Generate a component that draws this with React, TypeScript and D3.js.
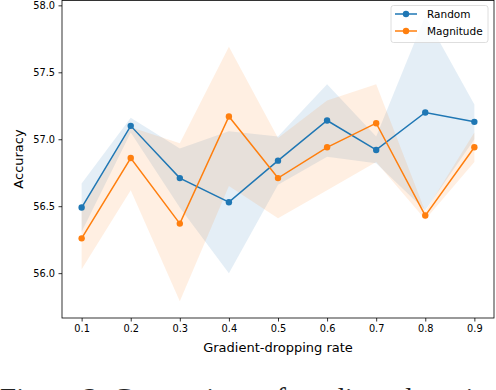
import { useEffect, useRef } from "react";
import * as d3 from "d3";

// values
const rates = [0.1, 0.2, 0.3, 0.4, 0.5, 0.6, 0.7, 0.8, 0.9];
const randomMean = [56.49, 57.1, 56.71, 56.53, 56.84, 57.14, 56.92, 57.2, 57.13];
const randomLow = [56.31, 57.05, 56.49, 56.0, 56.66, 56.87, 56.82, 56.47, 57.0];
const randomHigh = [56.67, 57.16, 56.93, 57.06, 57.02, 57.41, 57.02, 57.92, 57.26];
const magMean = [56.26, 56.86, 56.37, 57.17, 56.71, 56.94, 57.12, 56.43, 56.94];
const magLow = [56.03, 56.62, 55.79, 56.65, 56.41, 56.62, 56.83, 56.4, 56.83];
const magHigh = [56.49, 57.09, 56.97, 57.69, 57.01, 57.29, 57.41, 56.46, 57.05];
const yTicks = [56.0, 56.5, 57.0, 57.5, 58.0];
const seriesNames = ["Random", "Magnitude"];
const caption = "Figure 3: Comparison of gradient-dropping methods.";

const WIDTH = 496;
const HEIGHT = 390;
const BLUE = "#1f77b4";
const ORANGE = "#ff7f0e";
const FONT = "DejaVu Sans, sans-serif";

export default function App() {
  const ref = useRef<SVGSVGElement>(null);

  useEffect(() => {
    const svg = d3.select(ref.current);
    svg.selectAll("*").remove();

    const left = 62, right = 494, top = 0, bottom = 318;
    const x = d3.scaleLinear().domain([0.06, 0.94]).range([left, right]);
    const y = d3.scaleLinear().domain([55.665, 58.04]).range([bottom, top]);

    const series = [
      { name: seriesNames[0], mean: randomMean, lo: randomLow, hi: randomHigh, color: BLUE },
      { name: seriesNames[1], mean: magMean, lo: magLow, hi: magHigh, color: ORANGE },
    ];

    const band = d3
      .area<number>()
      .x((_, i) => x(rates[i]));
    const line = d3
      .line<number>()
      .x((_, i) => x(rates[i]))
      .y((d) => y(d));

    // shaded bands first
    series.forEach((s) => {
      svg
        .append("path")
        .attr("d", band.y0((_, i) => y(s.lo[i])).y1((_, i) => y(s.hi[i]))(s.mean))
        .attr("fill", s.color)
        .attr("fill-opacity", 0.12);
    });

    series.forEach((s) => {
      svg
        .append("path")
        .attr("d", line(s.mean))
        .attr("fill", "none")
        .attr("stroke", s.color)
        .attr("stroke-width", 1.5);
      svg
        .append("g")
        .selectAll("circle")
        .data(s.mean)
        .join("circle")
        .attr("cx", (_, i) => x(rates[i]))
        .attr("cy", (d) => y(d))
        .attr("r", 3.2)
        .attr("fill", s.color);
    });

    // axes
    const xAxis = svg
      .append("g")
      .attr("transform", `translate(0,${bottom})`)
      .call(d3.axisBottom(x).tickValues(rates).tickFormat(d3.format(".1f")).tickSize(3.5).tickPadding(3.5));
    const yAxis = svg
      .append("g")
      .attr("transform", `translate(${left},0)`)
      .call(d3.axisLeft(y).tickValues(yTicks).tickFormat(d3.format(".1f")).tickSize(3.5).tickPadding(3.5));
    [xAxis, yAxis].forEach((a) => {
      a.select(".domain").remove();
      a.selectAll("line").attr("stroke", "#000").attr("stroke-width", 0.8);
      a.selectAll("text").attr("font-family", FONT).attr("font-size", 9.8).attr("fill", "#000");
    });

    // frame
    svg
      .append("rect")
      .attr("x", left)
      .attr("y", top + 0.4)
      .attr("width", right - left)
      .attr("height", bottom - top - 0.4)
      .attr("fill", "none")
      .attr("stroke", "#000")
      .attr("stroke-width", 0.8);

    svg
      .append("text")
      .attr("x", (left + right) / 2)
      .attr("y", 352)
      .attr("text-anchor", "middle")
      .attr("font-family", FONT)
      .attr("font-size", 13)
      .text("Gradient-dropping rate");
    svg
      .append("text")
      .attr("transform", `translate(23,${(top + bottom) / 2}) rotate(-90)`)
      .attr("text-anchor", "middle")
      .attr("font-family", FONT)
      .attr("font-size", 13)
      .text("Accuracy");

    // legend
    const lg = svg.append("g");
    lg.append("rect")
      .attr("x", 391)
      .attr("y", 5.5)
      .attr("width", 97)
      .attr("height", 37)
      .attr("rx", 2.5)
      .attr("fill", "#fff")
      .attr("fill-opacity", 0.8)
      .attr("stroke", "#d6d6d6")
      .attr("stroke-width", 0.8);
    series.forEach((s, i) => {
      const cy = 14 + i * 17;
      lg.append("line")
        .attr("x1", 395)
        .attr("x2", 417)
        .attr("y1", cy)
        .attr("y2", cy)
        .attr("stroke", s.color)
        .attr("stroke-width", 1.5);
      lg.append("circle").attr("cx", 406).attr("cy", cy).attr("r", 3.2).attr("fill", s.color);
      lg.append("text")
        .attr("x", 427)
        .attr("y", cy + 3.8)
        .attr("font-family", FONT)
        .attr("font-size", 10.5)
        .text(s.name);
    });

    // caption of the paper, mostly cut off
    svg
      .append("text")
      .attr("x", 0)
      .attr("y", 408)
      .attr("font-family", "Liberation Serif, serif")
      .attr("font-size", 29)
      .attr("fill", "#222")
      .text(caption);
  }, []);

  return (
    <svg
      ref={ref}
      width={WIDTH}
      height={HEIGHT}
      style={{ position: "absolute", left: 0, top: 0, background: "#fff" }}
    />
  );
}
